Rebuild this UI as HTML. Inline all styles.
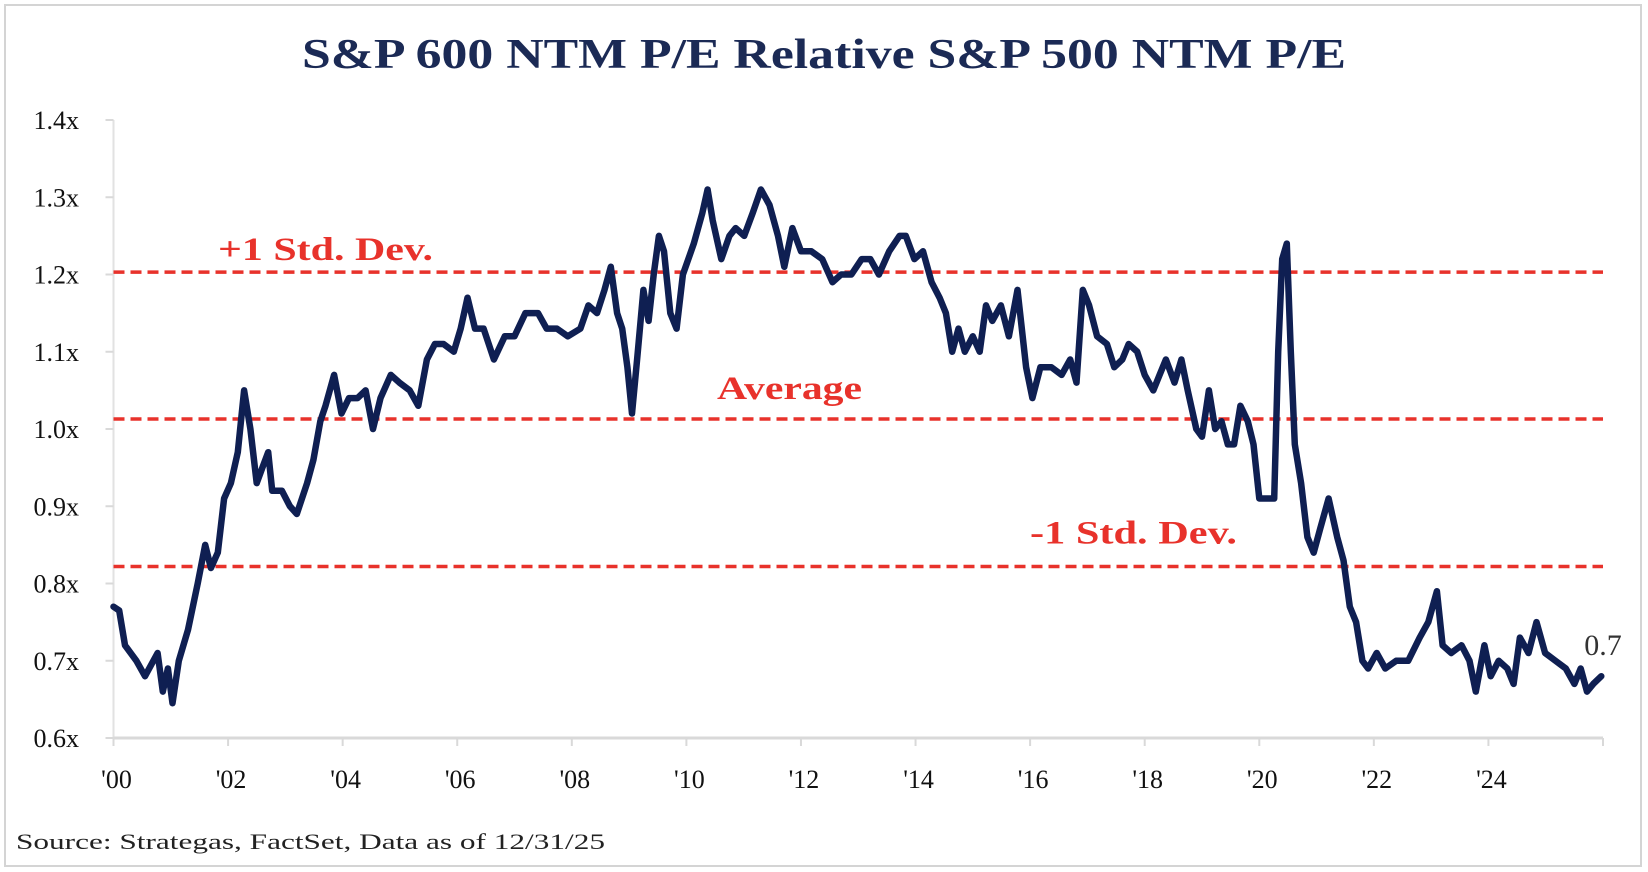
<!DOCTYPE html>
<html><head><meta charset="utf-8"><style>
html,body{margin:0;padding:0;background:#fff;}
svg{display:block;}
text{font-family:"Liberation Serif",serif;}
</style></head><body>
<svg id="chart" width="1648" height="872">
<rect x="5" y="5" width="1636" height="861" fill="#fff" stroke="#d4d4d4" stroke-width="2"/>
<text x="302" y="68" textLength="1044" lengthAdjust="spacingAndGlyphs" font-size="42" font-weight="bold" fill="#1b2a55">S&amp;P 600 NTM P/E Relative S&amp;P 500 NTM P/E</text>
<g id="grid"></g>
<g id="refs"></g>
<g id="series"></g>
<text x="16" y="849" textLength="589" lengthAdjust="spacingAndGlyphs" font-size="22" fill="#222">Source: Strategas, FactSet, Data as of 12/31/25</text>
</svg>
<script>
const yTicks=[0.6,0.7,0.8,0.9,1.0,1.1,1.2,1.3,1.4];
const yTickLabels=["0.6x","0.7x","0.8x","0.9x","1.0x","1.1x","1.2x","1.3x","1.4x"];
const xTicks=[2000,2002,2004,2006,2008,2010,2012,2014,2016,2018,2020,2022,2024];
const xTickLabels=["'00","'02","'04","'06","'08","'10","'12","'14","'16","'18","'20","'22","'24"];
const refValues=[1.203,1.013,0.822];
const refLabels=["+1 Std. Dev.","Average","-1 Std. Dev."];
const dates=[2000.0,2000.1,2000.2,2000.4,2000.55,2000.77,2000.86,2000.95,2001.03,2001.14,2001.3,2001.47,2001.6,2001.7,2001.82,2001.93,2002.05,2002.17,2002.28,2002.39,2002.5,2002.6,2002.7,2002.77,2002.94,2003.08,2003.2,2003.38,2003.49,2003.61,2003.7,2003.85,2003.98,2004.11,2004.26,2004.4,2004.53,2004.66,2004.84,2004.99,2005.17,2005.32,2005.47,2005.61,2005.76,2005.94,2006.06,2006.18,2006.31,2006.46,2006.64,2006.83,2007.0,2007.19,2007.41,2007.56,2007.74,2007.93,2008.15,2008.29,2008.44,2008.57,2008.68,2008.79,2008.88,2008.97,2009.05,2009.14,2009.25,2009.34,2009.43,2009.52,2009.61,2009.72,2009.83,2009.94,2010.13,2010.28,2010.37,2010.46,2010.61,2010.75,2010.86,2011.01,2011.16,2011.3,2011.45,2011.6,2011.71,2011.85,2012.0,2012.18,2012.37,2012.55,2012.7,2012.88,2013.06,2013.21,2013.36,2013.54,2013.72,2013.83,2013.98,2014.13,2014.28,2014.42,2014.53,2014.64,2014.75,2014.86,2015.0,2015.12,2015.23,2015.34,2015.49,2015.63,2015.78,2015.93,2016.04,2016.18,2016.37,2016.55,2016.7,2016.81,2016.92,2017.03,2017.17,2017.34,2017.47,2017.61,2017.72,2017.87,2018.0,2018.15,2018.26,2018.37,2018.52,2018.64,2018.75,2018.9,2019.0,2019.12,2019.23,2019.34,2019.45,2019.56,2019.67,2019.8,2019.9,2020.0,2020.15,2020.26,2020.33,2020.4,2020.48,2020.55,2020.62,2020.73,2020.84,2020.95,2021.06,2021.21,2021.36,2021.47,2021.58,2021.69,2021.8,2021.9,2022.05,2022.2,2022.39,2022.6,2022.8,2022.95,2023.1,2023.2,2023.35,2023.53,2023.67,2023.78,2023.93,2024.04,2024.18,2024.33,2024.44,2024.55,2024.7,2024.84,2024.99,2025.17,2025.35,2025.5,2025.61,2025.72,2025.83,2025.97];
const values=[0.77,0.765,0.72,0.70,0.68,0.71,0.66,0.69,0.645,0.70,0.74,0.80,0.85,0.82,0.84,0.91,0.93,0.97,1.05,1.00,0.93,0.95,0.97,0.92,0.92,0.90,0.89,0.93,0.96,1.01,1.03,1.07,1.02,1.04,1.04,1.05,1.00,1.04,1.07,1.06,1.05,1.03,1.09,1.11,1.11,1.10,1.13,1.17,1.13,1.13,1.09,1.12,1.12,1.15,1.15,1.13,1.13,1.12,1.13,1.16,1.15,1.18,1.21,1.15,1.13,1.08,1.02,1.09,1.18,1.14,1.20,1.25,1.23,1.15,1.13,1.20,1.24,1.28,1.31,1.27,1.22,1.25,1.26,1.25,1.28,1.31,1.29,1.25,1.21,1.26,1.23,1.23,1.22,1.19,1.20,1.20,1.22,1.22,1.20,1.23,1.25,1.25,1.22,1.23,1.19,1.17,1.15,1.10,1.13,1.10,1.12,1.10,1.16,1.14,1.16,1.12,1.18,1.08,1.04,1.08,1.08,1.07,1.09,1.06,1.18,1.16,1.12,1.11,1.08,1.09,1.11,1.10,1.07,1.05,1.07,1.09,1.06,1.09,1.05,1.00,0.99,1.05,1.00,1.01,0.98,0.98,1.03,1.01,0.98,0.91,0.91,0.91,1.10,1.22,1.24,1.10,0.98,0.93,0.86,0.84,0.87,0.91,0.86,0.83,0.77,0.75,0.70,0.69,0.71,0.69,0.70,0.70,0.73,0.75,0.79,0.72,0.71,0.72,0.70,0.66,0.72,0.68,0.70,0.69,0.67,0.73,0.71,0.75,0.71,0.70,0.69,0.67,0.69,0.66,0.67,0.68];
const lastLabel="0.7";

const X0=113.5,X1=1603,YT=120,YB=738;
const xs=d=>X0+(d-2000)/(2026-2000)*(X1-X0);
const ys=v=>YB-(v-0.6)/(1.4-0.6)*(YB-YT);
const NS="http://www.w3.org/2000/svg";
function mk(tag,attrs,parent,txt){const e=document.createElementNS(NS,tag);for(const k in attrs)e.setAttribute(k,attrs[k]);if(txt!==undefined)e.textContent=txt;parent.appendChild(e);return e;}
const grid=document.getElementById('grid'),refs=document.getElementById('refs'),ser=document.getElementById('series');

let e=mk('line',{x1:X0,y1:YT,x2:X0,y2:YB,stroke:'#e2e2e2','stroke-width':2},grid);


e=mk('line',{x1:X0,y1:YB,x2:X1,y2:YB,stroke:'#d9d9d9','stroke-width':3},grid);


yTicks.forEach((v,i)=>{
  const t=mk('line',{x1:X0-8,y1:ys(v),x2:X0,y2:ys(v),stroke:'#d9d9d9','stroke-width':2},grid);
  
  
  const l=mk('text',{x:79,y:ys(v)+9,'text-anchor':'end','font-size':26,fill:'#111'},grid,yTickLabels[i]);
  
  
});
for(let yr=2000;yr<=2026;yr+=2){
  const t=mk('line',{x1:xs(yr),y1:YB,x2:xs(yr),y2:YB+8,stroke:'#d9d9d9','stroke-width':2},grid);
  
  
}
xTicks.forEach((d,i)=>{
  const l=mk('text',{x:xs(d)+3,y:788,'text-anchor':'middle','font-size':26,fill:'#111'},grid,xTickLabels[i]);
  
  
});
const labelPos=[[218,215,-12],[717,145,-20],[1030,207,-23]];
refValues.forEach((v,i)=>{
  const l=mk('line',{x1:X0,y1:ys(v),x2:X1,y2:ys(v),stroke:'#e8322b','stroke-width':3.5,'stroke-dasharray':'11 6'},refs);
  
  
  const t=mk('text',{x:labelPos[i][0],y:ys(v)+labelPos[i][2],textLength:labelPos[i][1],lengthAdjust:'spacingAndGlyphs','font-size':33,'font-weight':'bold',fill:'#e8322b'},refs,refLabels[i]);
  
  
});
const p=mk('path',{d:dates.map((d,i)=>(i?'L':'M')+xs(d).toFixed(1)+','+ys(values[i]).toFixed(1)).join(''),fill:'none',stroke:'#0f1f52','stroke-width':6.5,'stroke-linejoin':'round','stroke-linecap':'round'},ser);


const ll=mk('text',{x:1603,y:655,'text-anchor':'middle','font-size':30,fill:'#333'},ser,lastLabel);


</script>
</body></html>
